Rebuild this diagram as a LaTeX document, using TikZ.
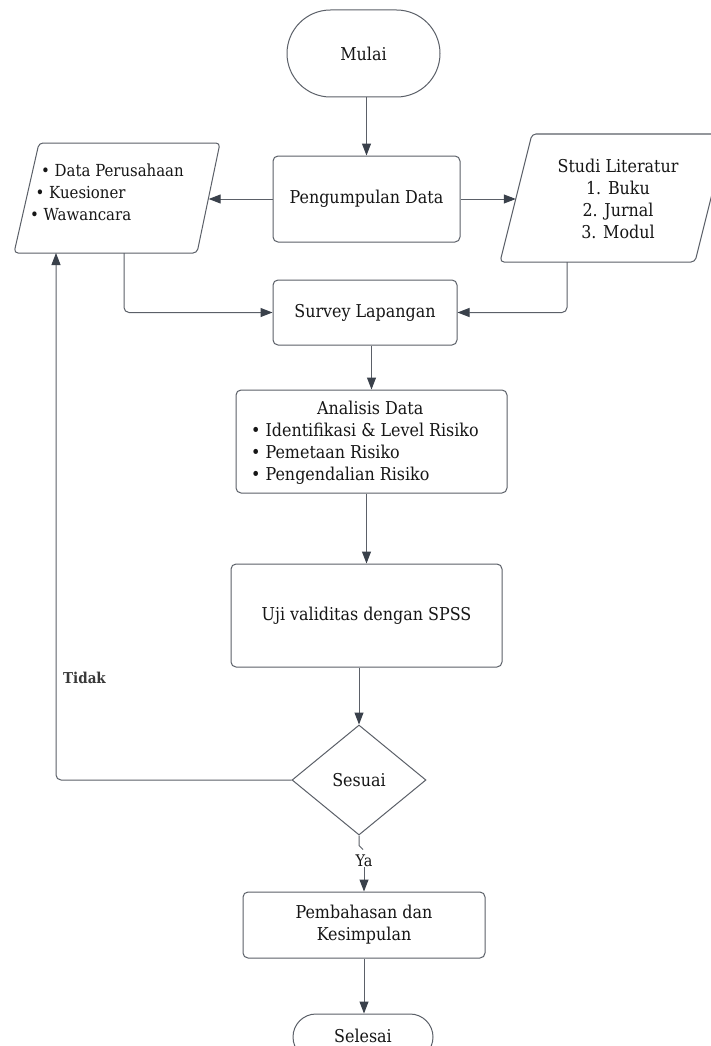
\documentclass[tikz,border=0pt]{standalone}
\usepackage{fontspec}
\setmainfont{DejaVu Serif Condensed}
\usetikzlibrary{arrows.meta,shapes.geometric,shapes.misc}
\definecolor{lin}{HTML}{5B6068}
\definecolor{tip}{HTML}{3A414B}
\definecolor{txt}{HTML}{161616}
\tikzset{
  arr/.style={draw=lin, line width=1pt, -{Triangle[length=12pt,width=9pt,color=tip]}},
  con/.style={draw=lin, line width=1pt},
  box/.style={draw=lin, line width=1pt, rounded corners=5pt, fill=white, text=txt, align=center, inner sep=0pt},
  term/.style={draw=lin, line width=1pt, rounded rectangle, fill=white, text=txt, inner sep=0pt},
  shp/.style={draw=lin, line width=1pt, rounded corners=4pt, fill=white},
  lbl/.style={text=txt, inner sep=0pt, align=center},
}
\begin{document}
\begin{tikzpicture}[x=1pt,y=-1pt, font=\fontsize{17.7}{22}\selectfont]
\useasboundingbox (0,0) rectangle (710,1046);
\fill[white] (0,0) rectangle (710,1046);

% Mulai
\node[term, minimum width=153pt, minimum height=87pt] (mulai) at (363.5,53.5) {Mulai};
% Pengumpulan Data
\node[box, minimum width=187pt, minimum height=86pt] (peng) at (366.5,199) {Pengumpulan Data};
% left parallelogram
\draw[shp] (39,143) -- (220,143) -- (197,253) -- (14,253) -- cycle;
\node[lbl, minimum width=182pt, minimum height=110pt] (dp) at (117.5,199) {};
\node[lbl, align=left, anchor=north west, font=\fontsize{16.6}{22}\selectfont] (dptext) at (30,163.5)
  {\hspace*{11pt}• Data Perusahaan\\\hspace*{5.5pt}• Kuesioner\\• Wawancara};
% right parallelogram
\draw[shp] (532,134) -- (727,134) -- (695,262) -- (500,262) -- cycle;
\node[lbl, minimum width=186pt, minimum height=128pt] (sl) at (609,199) {};
\node[lbl] (sltext) at (618,199) {Studi Literatur\\1. Buku\\2. Jurnal\\3. Modul};
% Survey
\node[box, minimum width=184pt, minimum height=65pt] (sur) at (365,312.5) {Survey Lapangan};
% Analisis
\node[box, minimum width=271pt, minimum height=103pt] (ana) at (371.5,441.5) {};
\node[lbl, align=left, anchor=north west] (anatext) at (251,401)
  {\hspace*{66pt}Analisis Data\\• Identifikasi \& Level Risiko\\• Pemetaan Risiko\\• Pengendalian Risiko};
% Uji
\node[box, minimum width=271pt, minimum height=103pt] (uji) at (366.5,615.5) {Uji validitas dengan SPSS};
% Sesuai
\node[diamond, draw=lin, line width=1pt, fill=white, text=txt, minimum width=134pt, minimum height=110pt, inner sep=0pt, aspect=1.22] (dia) at (359,780) {Sesuai};
% Pembahasan
\node[box, minimum width=242pt, minimum height=66pt] (pemb) at (364,925) {Pembahasan dan\\Kesimpulan};
% Selesai
\node[term, minimum width=140pt, minimum height=46pt] (sel) at (363,1037) {\raisebox{2pt}{Selesai}};

% connectors
\draw[arr] (peng.north |- mulai.south) -- (peng.north);
\draw[arr] (peng.west) -- (dp.east);
\draw[arr] (peng.east) -- (sl.west);
\coordinate (dpb) at (124,253);
\coordinate (slb) at (567,262);
\draw[arr, rounded corners=5pt] (dpb) |- (sur.west);
\draw[arr, rounded corners=5pt] (slb) |- (sur.east);
\draw[arr] (ana.north |- sur.south) -- (ana.north);
\draw[arr] (uji.north |- ana.south) -- (uji.north);
\draw[arr] (dia.north |- uji.south) -- (dia.north);
\coordinate (tdk) at (56,253);
\draw[arr, rounded corners=5pt] (dia.west) -| (tdk);
\node[text=txt!85, inner sep=0pt, font=\fontsize{15}{16}\selectfont\bfseries] (tidak) at (84.5,678) {Tidak};
\draw[con] (dia.south) -- ++(0,10) -- ++(4,4);
\node[lbl, font=\fontsize{16}{16}\selectfont] (ya) at (364,861) {Ya};
\draw[arr] (ya.south) -- (pemb.north);
\draw[arr] (pemb.south) -- (pemb.south |- sel.north);
\end{tikzpicture}
\end{document}
